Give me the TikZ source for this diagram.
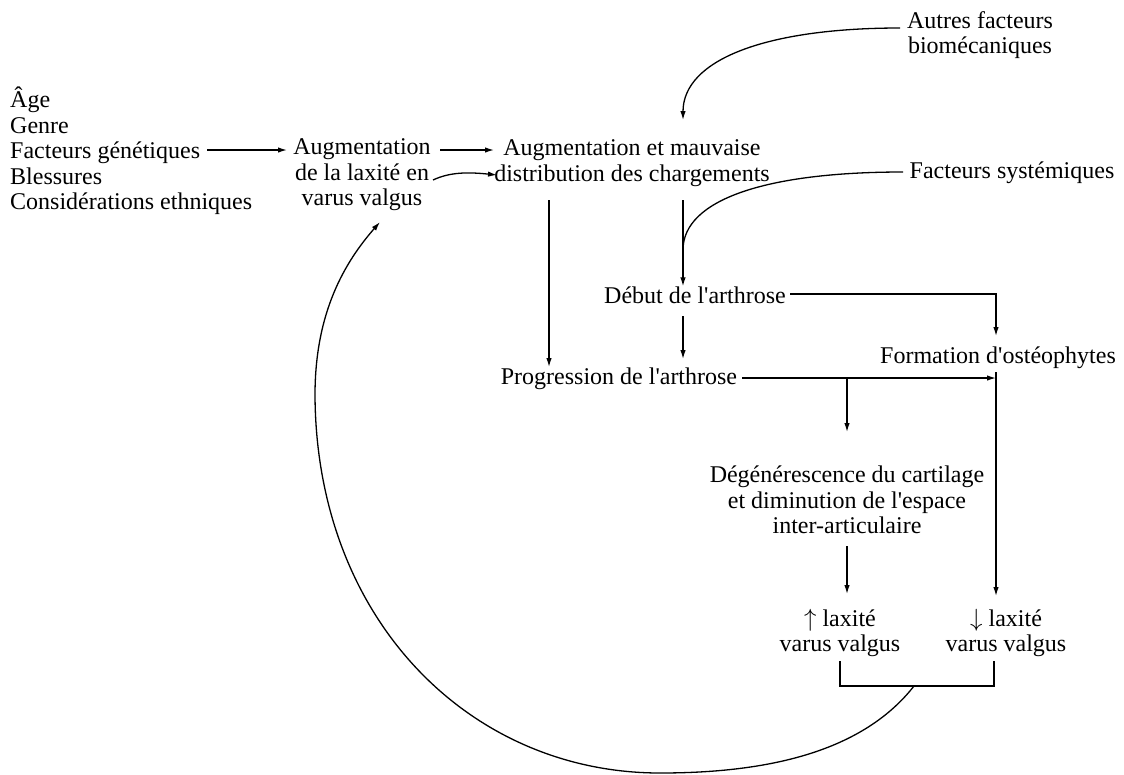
\documentclass[tikz,border=0pt]{standalone}
\usepackage{fontspec}
\setmainfont{Liberation Serif}
\usetikzlibrary{arrows.meta}
\newcommand{\apos}{\textquotesingle}
\begin{document}
\begin{tikzpicture}[x=1pt,y=-1pt,
  txt/.style={inner sep=0pt,align=center,font=\fontsize{24}{25.5}\selectfont},
  link/.style={line width=1.3pt,-{Latex[length=9pt,width=5.5pt]}},
  plain/.style={line width=1.3pt}]
\useasboundingbox (0,0) rectangle (1124,774);

% text blocks
\node[txt,align=left,anchor=west] (facteurs) at (10,151)
  {Âge\\Genre\\Facteurs génétiques\\Blessures\\Considérations ethniques};
\node[txt] (laxite) at (362,175) {Augmentation\\de la laxité en\\varus valgus};
\node[txt] (charges) at (632,163) {Augmentation et mauvaise\\distribution des chargements};
\node[txt] (biomeca) at (980,35) {Autres facteurs\\biomécaniques};
\node[txt] (systemiques) at (1012,173) {Facteurs systémiques};
\node[txt] (debut) at (695,295) {Début de l\apos arthrose};
\node[txt] (osteo) at (998,358) {Formation d\apos ostéophytes};
\node[txt] (progression) at (619,379) {Progression de l\apos arthrose};
\node[txt] (cartilage) at (847,500)
  {Dégénérescence du cartilage\\et diminution de l\apos espace\\inter-articulaire};
\node[txt] (plus) at (840,633) {$\uparrow$ laxité\\varus valgus};
\node[txt] (moins) at (1006,633) {$\downarrow$ laxité\\varus valgus};

% connector end points
\coordinate (fgEnd) at (207,150);
\coordinate (jonction) at (683,250);
\coordinate (branche) at (847,378);
\coordinate (colonne) at (996,378);
\coordinate (crochet) at (914,686);

% straight links
\draw[link] (fgEnd) -- (287,150);
\draw[link] (440,150) -- (494,150);
\draw[link] (433,180) .. controls (450,172) and (468,172) .. (497,175);
\draw[link] (683,200) -- (debut.north -| jonction);
\draw[link] (549,200) -- (549,367);
\draw[link] (683,316) -- (683,359);
\draw[link] (790,294) -- (996,294) -- (996,336);
\draw[link] (742,378) -- (colonne);
\draw[plain] (996,372) -- (colonne);
\draw[link] (colonne) -- (996,596);
\draw[link] (branche) -- (847,432);
\draw[link] (847,546) -- (847,594);

% incoming curves
\draw[link] (900,28) .. controls (765,28) and (683,60) .. (683,120);
\draw[plain] (903,172) .. controls (765,172) and (683,200) .. (jonction);

% bracket and feedback loop
\draw[plain] (840,661) -- (840,686) -- (994,686) -- (994,661);
\draw[link] (crochet) .. controls (860,755) and (760,773) .. (660,773)
  .. controls (470,773) and (316,620) .. (315,395)
  .. controls (315,312) and (345,262) .. (380,222);
\end{tikzpicture}
\end{document}
